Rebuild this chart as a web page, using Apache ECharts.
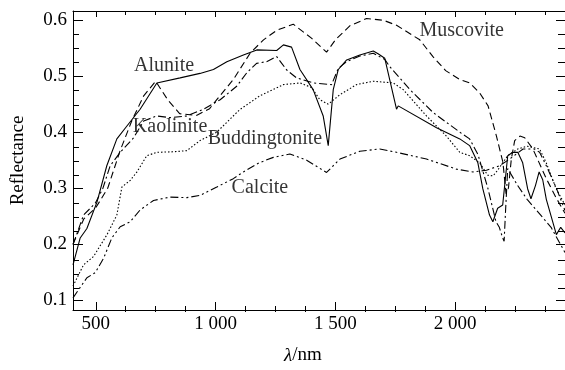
<!DOCTYPE html>
<html><head><meta charset="utf-8">
<script src="https://cdn.jsdelivr.net/npm/echarts@6/dist/echarts.min.js"></script>
<style>html,body{margin:0;padding:0;background:#fff}#c{width:565px;height:370px}</style>
</head><body><div id="c"></div>
<script>
const muscovite = [[405,0.20],[450,0.245],[500,0.265],[550,0.30],[600,0.365],[650,0.42],[700,0.465],[750,0.491],[800,0.458],[850,0.433],[920,0.43],[975,0.442],[1005,0.458],[1074,0.494],[1144,0.541],[1200,0.565],[1255,0.582],[1324,0.593],[1400,0.568],[1463,0.543],[1500,0.565],[1560,0.59],[1630,0.603],[1700,0.60],[1755,0.591],[1852,0.565],[1907,0.535],[1960,0.51],[2019,0.494],[2060,0.488],[2102,0.47],[2137,0.447],[2172,0.393],[2199,0.346],[2212,0.29],[2222,0.30],[2234,0.352],[2248,0.385],[2270,0.393],[2290,0.39],[2324,0.37],[2380,0.317],[2422,0.282],[2458,0.255]];
const alunite = [[405,0.163],[435,0.211],[463,0.228],[505,0.275],[546,0.340],[588,0.388],[630,0.411],[685,0.441],[755,0.488],[852,0.497],[935,0.505],[991,0.512],[1047,0.526],[1116,0.538],[1172,0.547],[1255,0.546],[1283,0.556],[1317,0.552],[1352,0.512],[1407,0.476],[1449,0.429],[1470,0.376],[1491,0.476],[1512,0.512],[1547,0.529],[1602,0.538],[1658,0.545],[1678,0.540],[1706,0.532],[1755,0.441],[1762,0.447],[1922,0.408],[2019,0.388],[2060,0.376],[2094,0.346],[2115,0.299],[2143,0.252],[2157,0.240],[2177,0.264],[2198,0.270],[2219,0.358],[2240,0.364],[2261,0.364],[2281,0.346],[2302,0.299],[2316,0.281],[2335,0.305],[2350,0.329],[2365,0.315],[2380,0.28],[2400,0.25],[2422,0.217],[2440,0.23],[2458,0.22]];
const kaolinite = [[405,0.199],[449,0.252],[498,0.273],[530,0.30],[560,0.340],[602,0.364],[658,0.39],[700,0.42],[755,0.429],[810,0.426],[880,0.429],[949,0.441],[1019,0.458],[1088,0.482],[1130,0.506],[1171,0.523],[1213,0.526],[1255,0.535],[1276,0.523],[1297,0.511],[1338,0.497],[1408,0.488],[1484,0.485],[1512,0.514],[1547,0.526],[1602,0.536],[1658,0.541],[1706,0.53],[1727,0.517],[1811,0.476],[1908,0.435],[2019,0.40],[2060,0.388],[2095,0.36],[2136,0.30],[2170,0.24],[2184,0.23],[2198,0.211],[2204,0.205],[2210,0.26],[2219,0.335],[2260,0.305],[2300,0.28],[2344,0.258],[2400,0.23],[2458,0.185]];
const buddingtonite = [[405,0.125],[449,0.163],[491,0.178],[547,0.217],[588,0.252],[609,0.302],[644,0.314],[672,0.329],[713,0.358],[755,0.364],[824,0.365],[880,0.367],[935,0.385],[1005,0.40],[1100,0.44],[1185,0.465],[1283,0.485],[1352,0.488],[1400,0.48],[1435,0.458],[1470,0.450],[1519,0.467],[1588,0.485],[1658,0.491],[1741,0.488],[1783,0.476],[1880,0.429],[1963,0.393],[2019,0.364],[2060,0.358],[2102,0.345],[2136,0.323],[2158,0.322],[2177,0.332],[2219,0.358],[2261,0.370],[2300,0.375],[2352,0.370],[2380,0.345],[2420,0.30],[2458,0.27]];
const calcite = [[405,0.104],[463,0.140],[498,0.149],[533,0.175],[567,0.211],[602,0.231],[644,0.240],[685,0.261],[741,0.278],[810,0.284],[880,0.283],[935,0.287],[1005,0.302],[1074,0.317],[1116,0.329],[1180,0.345],[1241,0.355],[1310,0.361],[1380,0.350],[1463,0.328],[1519,0.352],[1602,0.366],[1685,0.370],[1755,0.364],[1880,0.352],[2005,0.334],[2074,0.329],[2130,0.332],[2185,0.340],[2227,0.352],[2283,0.370],[2330,0.37],[2352,0.364],[2380,0.34],[2422,0.30],[2458,0.26]];

const xMajorTicks = [500, 1000, 1500, 2000];
const xMajorLabels = ['500', '1 000', '1 500', '2 000'];
const xMinorTicks = [625, 750, 875, 1125, 1250, 1375, 1625, 1750, 1875, 2125, 2250, 2375];
const yMajorTicks = [0.1, 0.2, 0.3, 0.4, 0.5, 0.6];
const yMinorTicks = [0.125,0.15,0.175,0.225,0.25,0.275,0.325,0.35,0.375,0.425,0.45,0.475,0.525,0.55,0.575];

const curveNames = ['Muscovite', 'Alunite', 'Kaolinite', 'Buddingtonite', 'Calcite'];
const labelPoints = [[2027, 0.582], [785, 0.519], [810, 0.409], [1206, 0.389], [1185, 0.301]];

const xMin = 405, xMax = 2458, yMin = 0.0823, yMax = 0.6165;
const FONT = 'Liberation Serif';

const gridRect = {left: 73, right: 0, top: 11, bottom: 58};
function xAx(grid, pos, ticks, len, showLabel, showLine) {
  return {
    type: 'value', gridIndex: grid, position: pos, min: xMin, max: xMax,
    axisLine: {show: showLine, lineStyle: {color: '#000', width: 1}},
    axisTick: {show: true, inside: true, length: len, customValues: ticks, lineStyle: {color: '#000', width: 1}},
    axisLabel: showLabel ? {show: true, customValues: xMajorTicks, margin: 5,
      formatter: v => xMajorLabels[xMajorTicks.indexOf(v)], color: '#000', fontFamily: FONT, fontSize: 19} : {show: false},
    splitLine: {show: false}
  };
}
function yAx(grid, pos, ticks, len, showLabel, showLine) {
  return {
    type: 'value', gridIndex: grid, position: pos, min: yMin, max: yMax,
    axisLine: {show: showLine, lineStyle: {color: '#000', width: 1}},
    axisTick: {show: true, inside: true, length: len, customValues: ticks, lineStyle: {color: '#000', width: 1}},
    axisLabel: showLabel ? {show: true, customValues: yMajorTicks, margin: 6,
      formatter: v => v.toFixed(1), color: '#000', fontFamily: FONT, fontSize: 19} : {show: false},
    splitLine: {show: false}
  };
}

const xAxes = [
  Object.assign(xAx(0, 'bottom', xMajorTicks, 8, true, true), {
    name: '{i|λ}/nm', nameLocation: 'middle', nameGap: 36,
    nameTextStyle: {color: '#000', fontFamily: FONT, fontSize: 19, padding: [0, 32, 0, 0],
      rich: {i: {fontStyle: 'italic', fontFamily: FONT, fontSize: 19, color: '#000'}}}
  }),
  xAx(0, 'top', xMajorTicks, 6, false, true),
  xAx(1, 'bottom', xMinorTicks, 6, false, false),
  xAx(1, 'top', xMinorTicks, 4, false, false)
];
const yAxes = [
  Object.assign(yAx(0, 'left', yMajorTicks, 10, true, true), {
    name: 'Reflectance', nameLocation: 'middle', nameGap: 45,
    nameTextStyle: {color: '#000', fontFamily: FONT, fontSize: 19}
  }),
  yAx(0, 'right', yMajorTicks, 9, false, false),
  yAx(1, 'left', yMinorTicks, 6, false, false),
  yAx(1, 'right', yMinorTicks, 7, false, false)
];

const styles = [
  [7, 4],
  'solid',
  [8, 3, 2, 3],
  [1.5, 2],
  [8, 3, 2, 3, 2, 3]
];
const datasets = [muscovite, alunite, kaolinite, buddingtonite, calcite];
const series = datasets.map((d, i) => ({
  name: curveNames[i], type: 'line', xAxisIndex: 0, yAxisIndex: 0,
  data: d, showSymbol: false, symbol: 'none', silent: true, animation: false,
  lineStyle: {color: '#000', width: 1.1, type: styles[i]}
}));
series.push({
  type: 'scatter', xAxisIndex: 0, yAxisIndex: 0, symbolSize: 0, silent: true, animation: false,
  data: labelPoints.map((p, i) => ({value: p, name: curveNames[i]})),
  label: {show: true, position: 'inside', formatter: p => p.name, color: '#000', fontFamily: FONT, fontSize: 20}
});

const chart = echarts.init(document.getElementById('c'), null, {renderer: 'canvas'});
chart.setOption({
  animation: false,
  backgroundColor: '#fff',
  grid: [Object.assign({}, gridRect), Object.assign({}, gridRect)],
  xAxis: xAxes,
  yAxis: yAxes,
  series: series
});
</script></body></html>
